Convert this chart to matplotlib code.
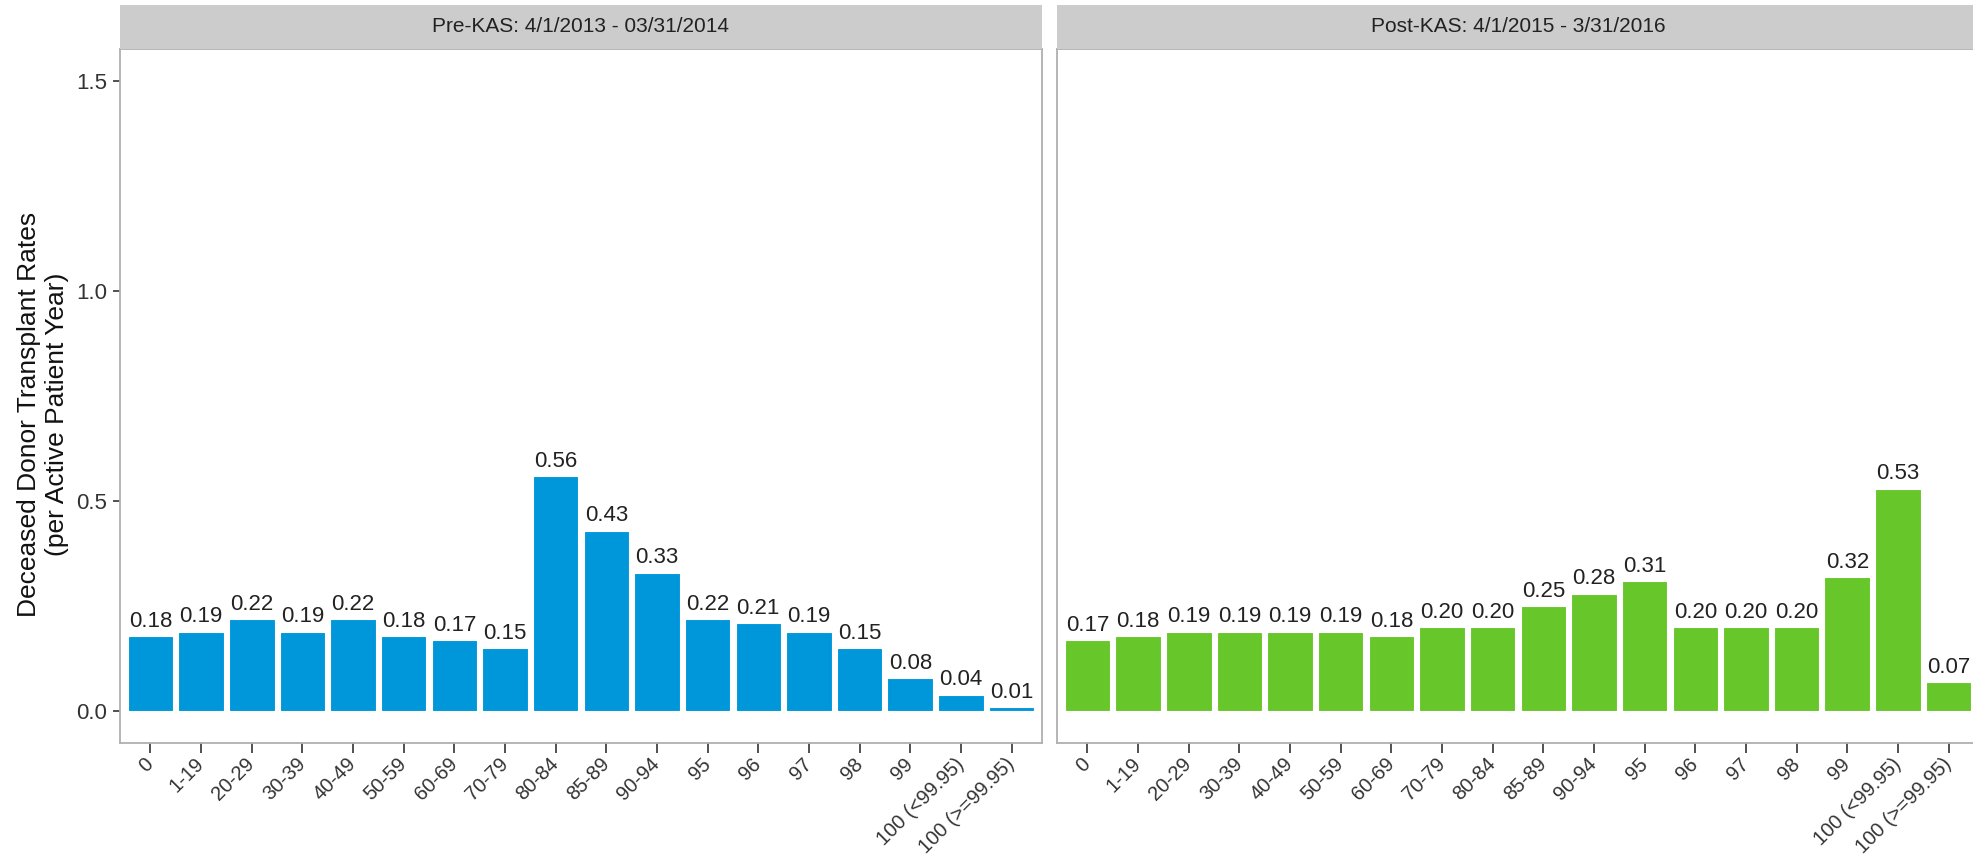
import matplotlib
matplotlib.use('Agg')
import matplotlib.pyplot as plt
import numpy as np


categories = ['0', '1-19', '20-29', '30-39', '40-49', '50-59', '60-69', '70-79',
              '80-84', '85-89', '90-94', '95', '96', '97', '98', '99',
              '100 (<99.95)', '100 (>=99.95)']
pre_kas = [0.18, 0.19, 0.22, 0.19, 0.22, 0.18, 0.17, 0.15, 0.56, 0.43, 0.33,
           0.22, 0.21, 0.19, 0.15, 0.08, 0.04, 0.01]
post_kas = [0.17, 0.18, 0.19, 0.19, 0.19, 0.19, 0.18, 0.20, 0.20, 0.25, 0.28,
            0.31, 0.20, 0.20, 0.20, 0.32, 0.53, 0.07]
panel_titles = ['Pre-KAS: 4/1/2013 - 03/31/2014', 'Post-KAS: 4/1/2015 - 3/31/2016']
y_ticks = [0.0, 0.5, 1.0, 1.5]

plt.rcParams['font.family'] = ['Liberation Sans', 'DejaVu Sans']

W, H = 1974, 866
fig = plt.figure(figsize=(W / 100, H / 100), dpi=100)


def px_box(x0, y0, x1, y1):
    # pixel box (top-left origin) -> figure fraction [left, bottom, width, height]
    return [x0 / W, 1 - y1 / H, (x1 - x0) / W, (y1 - y0) / H]


panel_w = 922
panels = [
    (120, pre_kas, '#0096da', panel_titles[0]),
    (1057, post_kas, '#66c62a', panel_titles[1]),
]

x = np.arange(len(categories))
for i, (x0, vals, color, title) in enumerate(panels):
    ax = fig.add_axes(px_box(x0, 49, x0 + panel_w, 743))
    ax.bar(x, vals, width=0.9, color=color, edgecolor='white', linewidth=0.8)
    for xi, v in zip(x, vals):
        ax.text(xi, v + 0.01, f'{v:.2f}', ha='center', va='bottom',
                fontsize=16, color='#222222')

    ax.set_xlim(-0.6, len(categories) - 0.4)
    ax.set_ylim(-0.075, 1.575)
    ax.set_xticks(x)
    ax.set_xticklabels(categories, rotation=45, ha='right', va='center',
                       rotation_mode='anchor')
    ax.tick_params(axis='x', length=7, width=1.2, color='#333333', pad=6,
                   labelsize=14.5, labelcolor='#333333')
    if i == 0:
        ax.set_yticks(y_ticks)
        ax.set_yticklabels([f'{t:.1f}' for t in y_ticks])
        ax.tick_params(axis='y', length=5, width=1.2, color='#333333', pad=4,
                       labelsize=16, labelcolor='#333333')
    else:
        ax.set_yticks([])
    for sp in ax.spines.values():
        sp.set_color('#b0b0b0')
        sp.set_linewidth(1.3)

    # facet strip
    sax = fig.add_axes(px_box(x0, 5, x0 + panel_w, 49))
    sax.set_facecolor('#cccccc')
    sax.set_xticks([])
    sax.set_yticks([])
    for sp in sax.spines.values():
        sp.set_visible(False)
    sax.text(0.5, 0.5, title, transform=sax.transAxes, ha='center', va='center',
             fontsize=15, color='#222222')

fig.text(43 / W, 1 - 414 / H,
         'Deceased Donor Transplant Rates\n(per Active Patient Year)',
         rotation=90, ha='center', va='center', multialignment='center',
         fontsize=19, linespacing=1.2, color='#111111')

fig.savefig('out.png', dpi=100)
